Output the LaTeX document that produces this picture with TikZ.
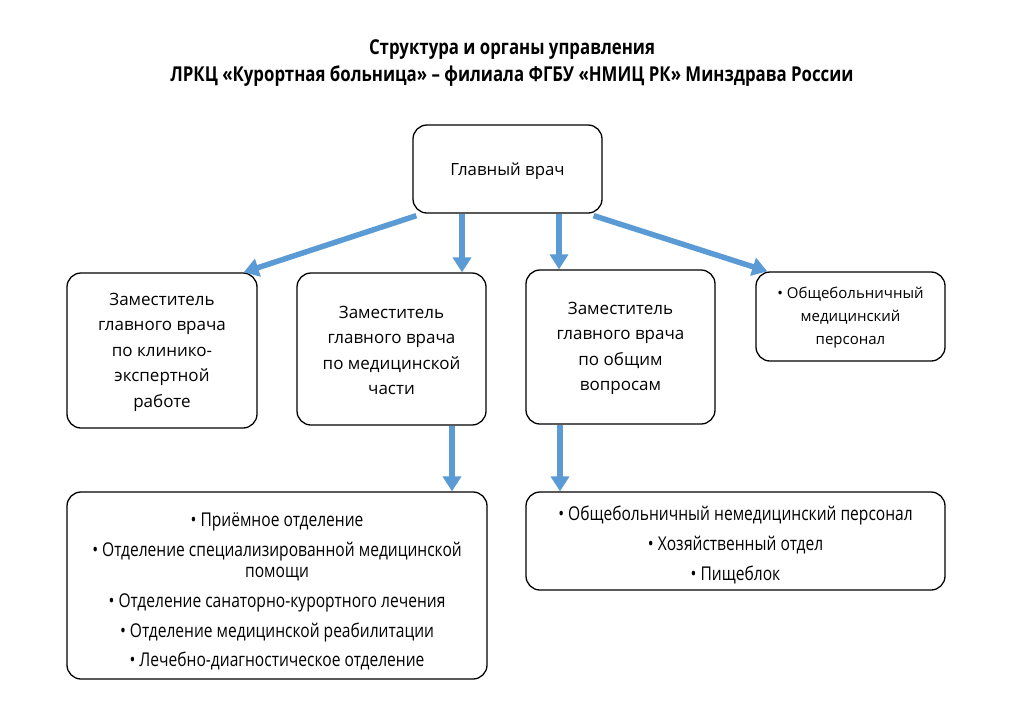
\documentclass[tikz,border=0pt]{standalone}
\usepackage{fontspec}
\setmainfont{Open Sans}
\newfontfamily\cond[FakeStretch=0.82]{Open Sans}
\usetikzlibrary{arrows.meta,calc}
\definecolor{arrblue}{RGB}{91,155,213}
\tikzset{
  frame/.style={draw=black, line width=1.3pt, rounded corners=14pt, inner sep=0pt},
  boxtext/.style={align=center, inner sep=0pt, font=\fontsize{17}{25.5}\selectfont},
  lowtext/.style={align=center, inner sep=0pt, font=\cond\fontsize{19}{21}\selectfont},
  arr/.style={draw=arrblue, line width=5.5pt, -{Triangle[width=18pt,length=15pt]}},
}
\begin{document}
\begin{tikzpicture}[x=1pt,y=-1pt]
\useasboundingbox (0,0) rectangle (1024,724);
\fill[white] (0,0) rectangle (1024,724);
\node[font=\cond\bfseries\fontsize{20.5}{27}\selectfont, align=center] (title) at (512,63)
  {Структура и органы управления\\ЛРКЦ «Курортная больница» – филиала ФГБУ «НМИЦ РК» Минздрава России};
% boxes
\node[frame, minimum width=189pt, minimum height=88pt] (main) at (507.5,169) {};
\node[frame, minimum width=190pt, minimum height=155pt] (b1) at (162,350.5) {};
\node[frame, minimum width=189pt, minimum height=152pt] (b2) at (391.5,349) {};
\node[frame, minimum width=189pt, minimum height=154pt] (b3) at (620.5,347) {};
\node[frame, minimum width=189pt, minimum height=89pt] (b4) at (850.5,316.5) {};
\node[frame, minimum width=420pt, minimum height=187pt] (bl) at (277,585.5) {};
\node[frame, minimum width=419pt, minimum height=98pt] (br) at (735.5,541) {};
% texts
\node[boxtext, font=\fontsize{16.8}{20}\selectfont] (maintext) at ([yshift=-2.5pt]main.center) {Главный врач};
\node[boxtext] (b1text) at ([yshift=-1.5pt]b1.center)
  {Заместитель\\главного врача\\по клинико-\\экспертной\\работе};
\node[boxtext] (b2text) at ([yshift=-1.5pt]b2.center)
  {Заместитель\\главного врача\\по медицинской\\части};
\node[boxtext] (b3text) at ([yshift=-1.5pt]b3.center)
  {Заместитель\\главного врача\\по общим\\вопросам};
\node[boxtext, font=\fontsize{15}{23}\selectfont] (b4text) at ([yshift=-1pt]b4.center)
  {• Общебольничный\\медицинский\\персонал};
\node[lowtext] (bltext) at ([yshift=-6pt]bl.center)
  {• Приёмное отделение\\[8.5pt]• Отделение специализированной медицинской\\помощи\\[9pt]• Отделение санаторно-курортного лечения\\[9pt]• Отделение медицинской реабилитации\\[8pt]• Лечебно-диагностическое отделение};
\node[lowtext] (brtext) at ([yshift=-4pt]br.center)
  {• Общебольничный немедицинский персонал\\[9pt]• Хозяйственный отдел\\[9pt]• Пищеблок};
% connectors
\draw[arr] ([shift={(4pt,-2pt)}]main.south west) -- ([xshift=-14pt]b1.north east);
\draw[arr] ([xshift=-45.5pt]main.south) -- ([xshift=-45.5pt]main.south |- b2.north);
\draw[arr] ([xshift=51.5pt]main.south) -- ([xshift=51.5pt]main.south |- b3.north);
\draw[arr] ([shift={(-9pt,-2pt)}]main.south east) -- ([xshift=12pt]b4.north west);
\draw[arr] ([xshift=60.5pt]b2.south) -- ([xshift=60.5pt]b2.south |- bl.north);
\draw[arr] ([xshift=-60.5pt]b3.south) -- ([xshift=-60.5pt]b3.south |- br.north);
\end{tikzpicture}
\end{document}
